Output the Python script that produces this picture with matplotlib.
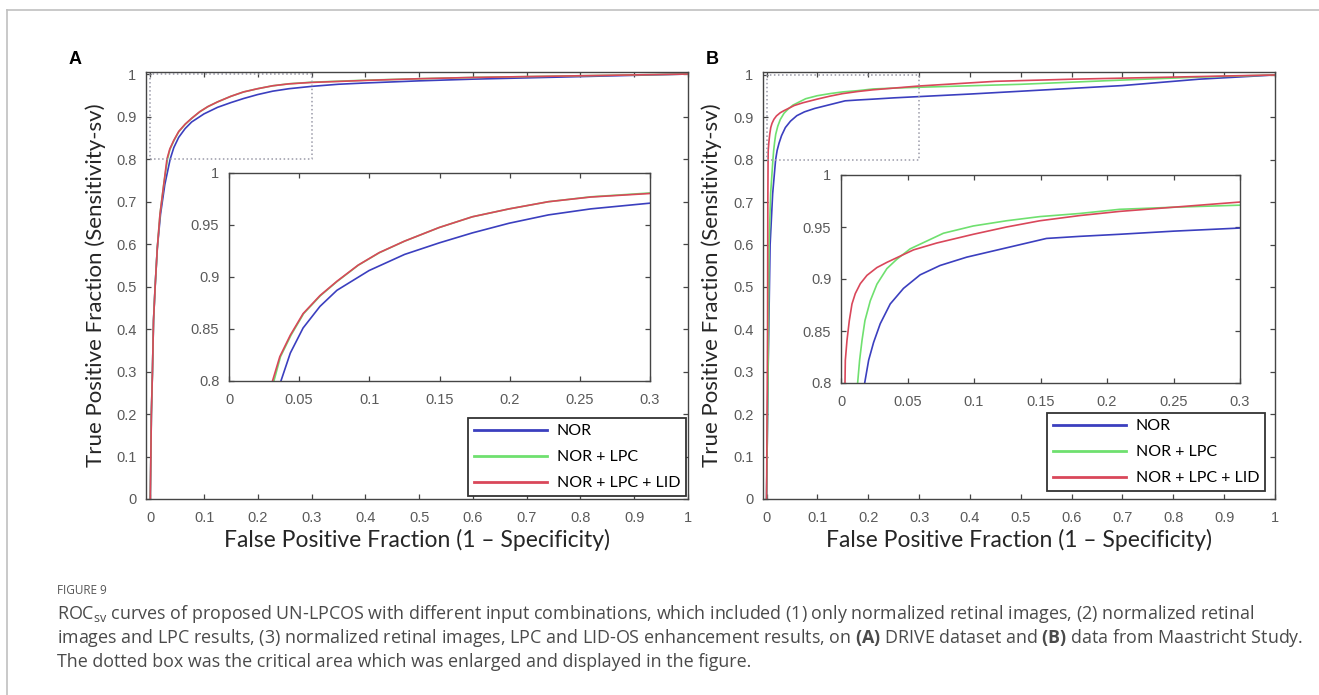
import numpy as np
import matplotlib.pyplot as plt
from matplotlib.lines import Line2D

plt.rcParams['mathtext.fontset'] = 'custom'
plt.rcParams['mathtext.rm'] = 'Open Sans'
plt.rcParams['mathtext.bf'] = 'Open Sans:bold'

## DATA
labels = ['NOR', 'NOR + LPC', 'NOR + LPC + LID']
colors = ['#3b3fbf', '#6fe06f', '#d9475a']

# panneau A : DRIVE
a_nor_x = [0, 0.001, 0.002, 0.004, 0.006, 0.009, 0.013, 0.019, 0.027, 0.037, 0.0437, 0.0528, 0.0648, 0.0769, 0.0998, 0.1251, 0.1498, 0.1734, 0.1996, 0.2276, 0.2578, 0.3, 0.35, 0.4, 0.5, 0.6, 0.7, 0.8, 0.9, 1.0]
a_nor_y = [0, 0.1, 0.2, 0.3, 0.42, 0.5, 0.59, 0.67, 0.74, 0.8, 0.8269, 0.851, 0.8717, 0.8872, 0.9062, 0.9217, 0.9328, 0.9424, 0.9517, 0.9597, 0.9655, 0.971, 0.976, 0.979, 0.984, 0.988, 0.991, 0.994, 0.997, 1.0]
a_lpc_x = [0, 0.001, 0.002, 0.004, 0.006, 0.009, 0.013, 0.018, 0.025, 0.032, 0.0367, 0.0442, 0.0532, 0.0652, 0.0772, 0.0922, 0.1072, 0.1252, 0.1498, 0.1734, 0.1996, 0.2276, 0.2578, 0.3, 0.4, 0.5, 0.6, 0.7, 0.8, 0.9, 1.0]
a_lpc_y = [0, 0.1, 0.2, 0.3, 0.42, 0.5, 0.59, 0.67, 0.74, 0.8, 0.8234, 0.8441, 0.8648, 0.8821, 0.8959, 0.9114, 0.9234, 0.9345, 0.9476, 0.9579, 0.9655, 0.9724, 0.9771, 0.9808, 0.9855, 0.989, 0.992, 0.994, 0.996, 0.998, 1.0]
a_lid_x = [0, 0.001, 0.002, 0.004, 0.006, 0.009, 0.013, 0.018, 0.025, 0.031, 0.0362, 0.0437, 0.0528, 0.0648, 0.0769, 0.092, 0.107, 0.1251, 0.1498, 0.1734, 0.1996, 0.2276, 0.2578, 0.3, 0.4, 0.5, 0.6, 0.7, 0.8, 0.9, 1.0]
a_lid_y = [0, 0.1, 0.2, 0.3, 0.42, 0.5, 0.59, 0.67, 0.74, 0.8, 0.8234, 0.8441, 0.8648, 0.8821, 0.8959, 0.9114, 0.9234, 0.9345, 0.9476, 0.9579, 0.9655, 0.9724, 0.9769, 0.9803, 0.985, 0.989, 0.992, 0.994, 0.996, 0.998, 1.0]

# panneau B : Maastricht
b_nor_x = [0, 0.003, 0.007, 0.012, 0.0178, 0.0208, 0.0245, 0.0295, 0.037, 0.047, 0.0595, 0.0745, 0.0945, 0.1145, 0.1345, 0.1545, 0.1795, 0.2095, 0.25, 0.3, 0.4, 0.55, 0.7, 0.85, 1.0]
b_nor_y = [0, 0.3, 0.6, 0.72, 0.8, 0.822, 0.839, 0.857, 0.876, 0.891, 0.904, 0.913, 0.921, 0.927, 0.933, 0.939, 0.941, 0.943, 0.946, 0.949, 0.955, 0.965, 0.975, 0.99, 1.0]
b_lpc_x = [0, 0.003, 0.005, 0.008, 0.0125, 0.014, 0.0158, 0.018, 0.022, 0.027, 0.0345, 0.042, 0.052, 0.062, 0.077, 0.0995, 0.1245, 0.1495, 0.1795, 0.2095, 0.25, 0.3, 0.5, 0.7, 0.85, 1.0]
b_lpc_y = [0, 0.3, 0.6, 0.72, 0.8, 0.822, 0.841, 0.86, 0.879, 0.895, 0.91, 0.919, 0.929, 0.935, 0.944, 0.951, 0.956, 0.96, 0.963, 0.967, 0.969, 0.971, 0.978, 0.988, 0.995, 1.0]
b_lid_x = [0, 0.002, 0.0025, 0.003, 0.00325, 0.0045, 0.00625, 0.00825, 0.01075, 0.0145, 0.0195, 0.027, 0.0345, 0.0445, 0.0545, 0.072, 0.0995, 0.1245, 0.1495, 0.1795, 0.2095, 0.3, 0.45, 0.6, 0.8, 1.0]
b_lid_y = [0, 0.4, 0.7, 0.8, 0.8218, 0.841, 0.86, 0.876, 0.886, 0.8955, 0.9035, 0.911, 0.916, 0.922, 0.928, 0.9346, 0.943, 0.95, 0.956, 0.961, 0.965, 0.974, 0.985, 0.99, 0.995, 1.0]

main_ticks = np.round(np.arange(0, 1.01, 0.1), 1)
inset_xticks = [0, 0.05, 0.1, 0.15, 0.2, 0.25, 0.3]
inset_yticks = [0.8, 0.85, 0.9, 0.95, 1.0]

caption_lines = [
    r"ROC$_{\mathrm{sv}}$ curves of proposed UN-LPCOS with different input combinations, which included (1) only normalized retinal images, (2) normalized retinal",
    r"images and LPC results, (3) normalized retinal images, LPC and LID-OS enhancement results, on $\mathbf{(A)}$ DRIVE dataset and $\mathbf{(B)}$ data from Maastricht Study.",
    r"The dotted box was the critical area which was enlarged and displayed in the figure.",
]

W, H = 1319, 695
fig = plt.figure(figsize=(W/100, H/100), dpi=100)

def box(l, t, r, b):
    return [l/W, 1 - b/H, (r - l)/W, (b - t)/H]

def fmt(v):
    s = f"{v:g}"
    return s

def style(ax, xt, yt, xpad, ypad):
    for sp in ax.spines.values():
        sp.set_color('#454545')
        sp.set_linewidth(1.0)
    ax.set_xticks(xt)
    ax.set_yticks(yt)
    ax.set_xticklabels([fmt(v) for v in xt])
    ax.set_yticklabels([fmt(v) for v in yt])
    ax.tick_params(direction='in', top=True, right=True, length=3.5, width=0.9,
                   color='#454545', labelcolor='#5a5a5a', labelsize=10.5)
    ax.tick_params(axis='x', pad=xpad)
    ax.tick_params(axis='y', pad=ypad)
    for t in ax.get_xticklabels() + ax.get_yticklabels():
        t.set_fontfamily('Liberation Sans')

panels = [
    dict(main=(146, 71.5, 688, 499), inset=(229, 173, 650, 381), leg=(686, 496),
         xl=-0.008, yl=1.006, tag='A', tagx=75, ylx=96,
         data=[(a_nor_x, a_nor_y), (a_lpc_x, a_lpc_y), (a_lid_x, a_lid_y)]),
    dict(main=(763, 72, 1275, 499), inset=(841, 175, 1240, 383), leg=(1265, 491),
         xl=-0.007, yl=1.007, tag='B', tagx=712, ylx=712,
         data=[(b_nor_x, b_nor_y), (b_lpc_x, b_lpc_y), (b_lid_x, b_lid_y)]),
]

for p in panels:
    l, t, r, b = p['main']
    ax = fig.add_axes(box(l, t, r, b))
    for (x, y), c, lab in zip(p['data'], colors, labels):
        ax.plot(x, y, color=c, lw=1.2, label=lab)
    ax.plot([0, 0.3, 0.3, 0, 0], [0.8, 0.8, 1, 1, 0.8], color='#9a9aa8', ls=':', lw=1.1)
    ax.set_xlim(p['xl'], 1.0)
    ax.set_ylim(0, p['yl'])
    style(ax, main_ticks, main_ticks, 8.5, 7)
    ax.set_xlabel('False Positive Fraction (1 – Specificity)', fontsize=16.5,
                  family='Lato', color='#262626', labelpad=3)
    fig.text(p['ylx']/W, 1 - (t + b)/2/H, 'True Positive Fraction (Sensitivity-sv)',
             rotation=90, ha='center', va='center', fontsize=16, family='Lato', color='#262626')
    fig.text(p['tagx']/W, 1 - 60/H, p['tag'], ha='center', va='center',
             fontsize=13, fontweight='bold', family='Liberation Sans')

    # encart zoom
    l2, t2, r2, b2 = p['inset']
    ax2 = fig.add_axes(box(l2, t2, r2, b2))
    for (x, y), c in zip(p['data'], colors):
        ax2.plot(x, y, color=c, lw=1.2)
    ax2.set_xlim(0, 0.3)
    ax2.set_ylim(0.8, 1.0)
    style(ax2, inset_xticks, inset_yticks, 9, 7)

    # légende
    lx, ly = p['leg']
    handles = [Line2D([], [], color=c, lw=2) for c in colors]
    leg = ax.legend(handles, labels, loc='lower right', bbox_to_anchor=(lx/W, 1 - ly/H),
                    bbox_transform=fig.transFigure, fancybox=False, framealpha=1,
                    edgecolor='#333333', handlelength=4.6, labelspacing=0.75,
                    borderpad=0.35, handletextpad=0.6, borderaxespad=0,
                    prop={'family': 'Lato', 'size': 11.5})
    leg.get_frame().set_linewidth(1.3)
    leg.set_zorder(10)

# cadre gris de la page
fig.add_artist(Line2D([7/W, 1], [1 - 10/H, 1 - 10/H], color='#c0c0c0', lw=1.2))
fig.add_artist(Line2D([7/W, 7/W], [0, 1 - 10/H], color='#c0c0c0', lw=1.2))

# légende de la figure
fig.text(57/W, 1 - 590/H, 'FIGURE 9', fontsize=8.5, family='Open Sans', color='#555555', va='center')
for i, line in enumerate(caption_lines):
    fig.text(57/W, 1 - (614 + 24*i)/H, line, fontsize=12.9, family='Open Sans',
             color='#4a4a4a', va='center')

plt.savefig('out.png', dpi=100)
